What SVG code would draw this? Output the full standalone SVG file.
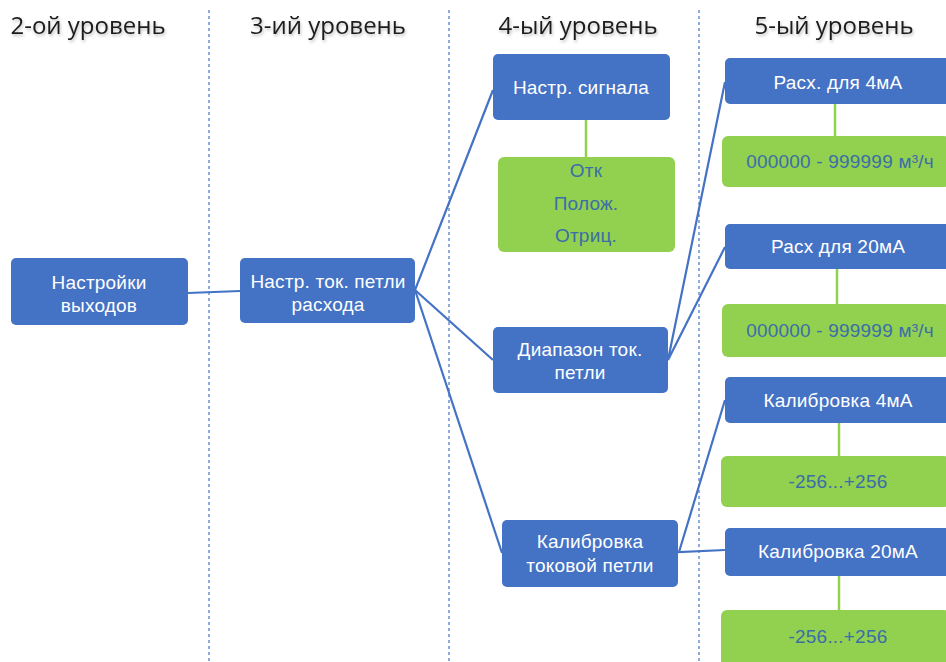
<svg xmlns="http://www.w3.org/2000/svg" width="946" height="662" viewBox="0 0 946 662">
<style>
.hdr{font-family:"Open Sans","Liberation Sans",sans-serif;font-size:24px;fill:#1e1e1e;text-anchor:middle}
.b rect{fill:#4472C4}
.b text{font-family:"Liberation Sans",Arial,sans-serif;font-size:19px;fill:#ffffff;text-anchor:middle;letter-spacing:0.2px}
.g rect{fill:#92D050}
.g text{font-family:"Liberation Sans",Arial,sans-serif;font-size:19px;fill:#3B6EA8;text-anchor:middle;letter-spacing:0.2px}
.sep{stroke:#8FAADC;stroke-width:2;stroke-dasharray:3 3}
.c{stroke:#4472C4;stroke-width:2.2;fill:none}
.gl{stroke:#92D050;stroke-width:2.5;fill:none}
</style>
<defs>
<filter id="sh" x="-10%" y="-30%" width="120%" height="160%"><feDropShadow dx="1" dy="2" stdDeviation="1.5" flood-color="#000" flood-opacity="0.25"/></filter>
</defs>
<rect width="946" height="662" fill="#ffffff"/>
<g id="separators">
<line class="sep" x1="209" y1="10" x2="209" y2="662"/>
<line class="sep" x1="449" y1="10" x2="449" y2="662"/>
<line class="sep" x1="699" y1="10" x2="699" y2="662"/>
</g>
<g id="headers" filter="url(#sh)">
<text class="hdr" x="88" y="34">2-ой уровень</text>
<text class="hdr" x="328" y="34">3-ий уровень</text>
<text class="hdr" x="578" y="34">4-ый уровень</text>
<text class="hdr" x="834" y="34">5-ый уровень</text>
</g>
<g id="connectors">
<line class="c" x1="188" y1="293" x2="240" y2="291"/>
<polyline class="c" points="493,90 415,290 493,360"/>
<line class="c" x1="415" y1="290" x2="502" y2="553"/>
<polyline class="c" points="725,82 668,360 725,247"/>
<polyline class="c" points="725,400 679,552 725,550"/>
<line class="gl" x1="586" y1="120" x2="586" y2="157"/>
<line class="gl" x1="835" y1="104" x2="835" y2="136"/>
<line class="gl" x1="837" y1="269" x2="837" y2="304"/>
<line class="gl" x1="839" y1="423" x2="839" y2="456"/>
<line class="gl" x1="839" y1="576" x2="839" y2="610"/>
</g>
<g id="n-nastroiki" class="b">
<rect x="11" y="258" width="177" height="67" rx="5"/>
<text x="99" y="289">Настройки</text>
<text x="99" y="312">выходов</text>
</g>
<g id="n-petli-raskhoda" class="b">
<rect x="240" y="258" width="175" height="65" rx="5"/>
<text x="328" y="288">Настр. ток. петли</text>
<text x="328" y="311">расхода</text>
</g>
<g id="n-signal" class="b">
<rect x="493" y="54" width="177" height="66" rx="5"/>
<text x="581" y="94">Настр. сигнала</text>
</g>
<g id="n-signal-vals" class="g">
<rect x="498" y="157" width="177" height="95" rx="6"/>
<text x="586" y="177">Отк</text>
<text x="586" y="210">Полож.</text>
<text x="586" y="242">Отриц.</text>
</g>
<g id="n-diapazon" class="b">
<rect x="493" y="327" width="175" height="66" rx="5"/>
<text x="580" y="356">Диапазон ток.</text>
<text x="580" y="379">петли</text>
</g>
<g id="n-kalibrovka" class="b">
<rect x="502" y="520" width="176" height="67" rx="5"/>
<text x="590" y="548">Калибровка</text>
<text x="590" y="572">токовой петли</text>
</g>
<g id="n-rash4" class="b">
<rect x="725" y="58" width="225" height="46" rx="5"/>
<text x="838" y="89">Расх. для 4мА</text>
</g>
<g id="n-rash4-val" class="g">
<rect x="722" y="136" width="228" height="51" rx="6"/>
<text x="840" y="168">000000 - 999999 м³/ч</text>
</g>
<g id="n-rash20" class="b">
<rect x="725" y="224" width="225" height="45" rx="5"/>
<text x="838" y="253">Расх для 20мА</text>
</g>
<g id="n-rash20-val" class="g">
<rect x="722" y="304" width="228" height="53" rx="6"/>
<text x="840" y="337">000000 - 999999 м³/ч</text>
</g>
<g id="n-kal4" class="b">
<rect x="725" y="377" width="225" height="46" rx="5"/>
<text x="838" y="407">Калибровка 4мА</text>
</g>
<g id="n-kal4-val" class="g">
<rect x="721" y="456" width="229" height="51" rx="6"/>
<text x="838" y="488">-256...+256</text>
</g>
<g id="n-kal20" class="b">
<rect x="725" y="528" width="225" height="48" rx="5"/>
<text x="838" y="558">Калибровка 20мА</text>
</g>
<g id="n-kal20-val" class="g">
<rect x="721" y="610" width="229" height="60" rx="6"/>
<text x="838" y="643">-256...+256</text>
</g>
</svg>
